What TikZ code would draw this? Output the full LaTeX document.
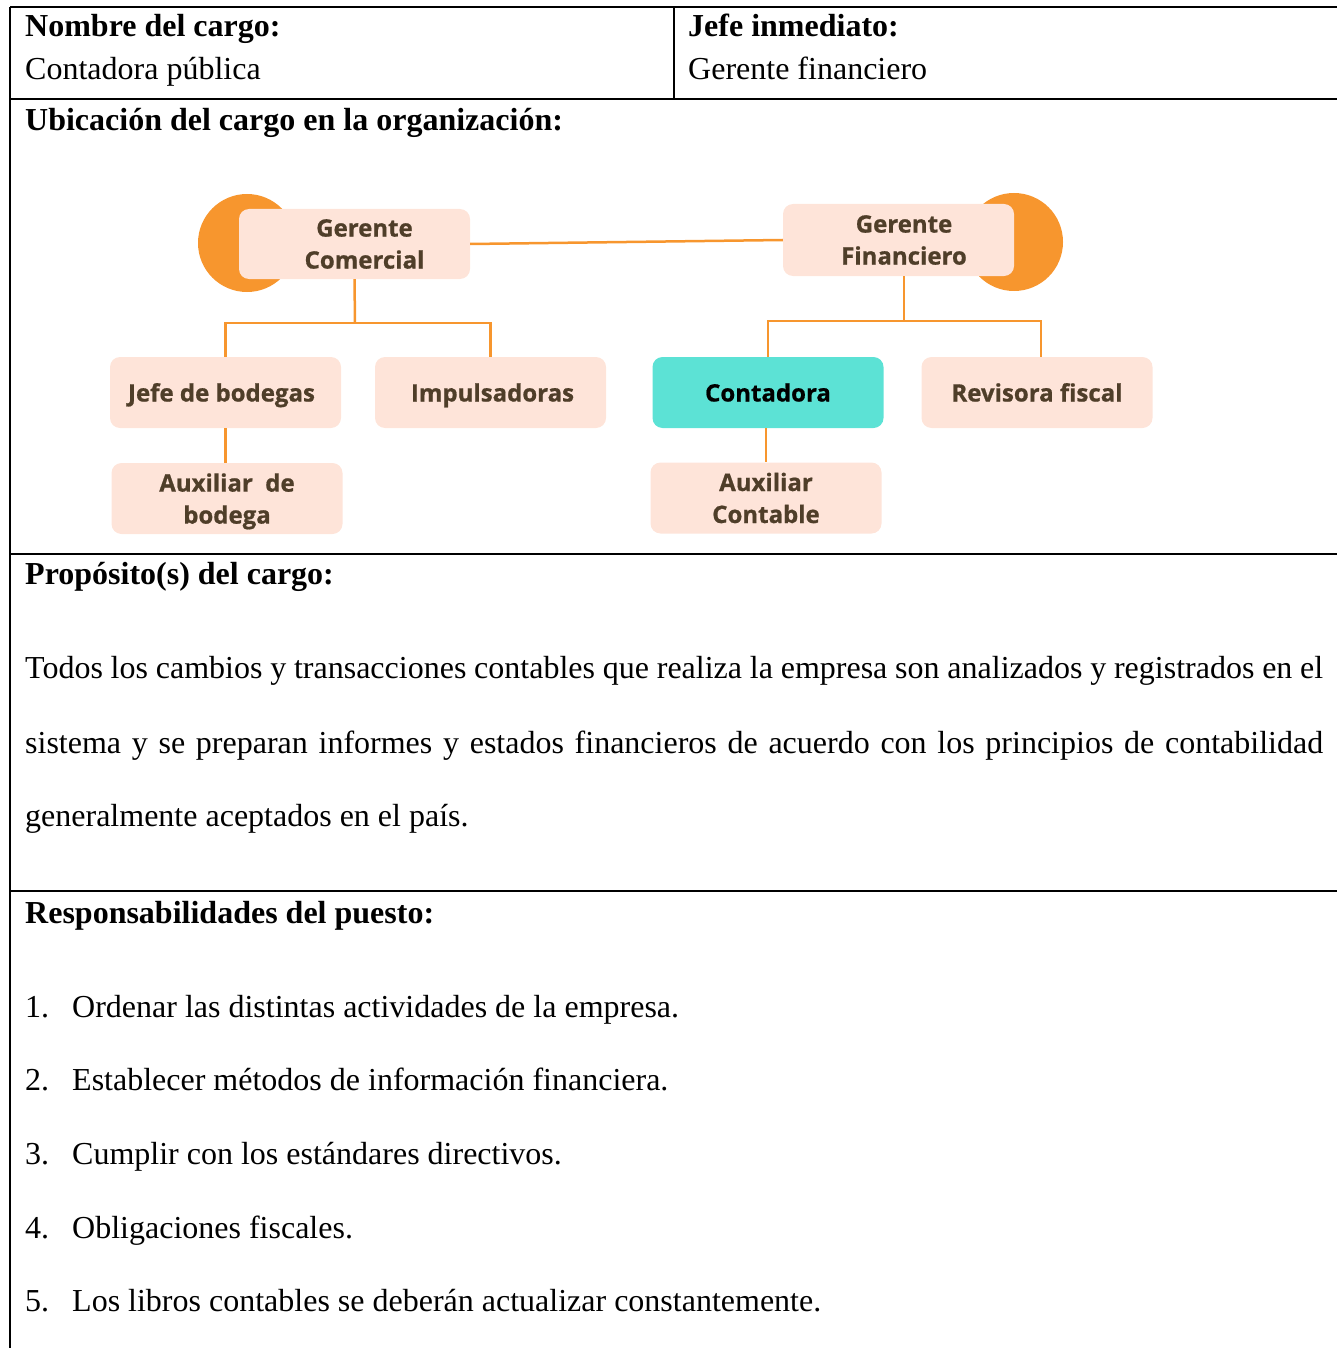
\documentclass[tikz,border=0pt]{standalone}
\usepackage{fontspec}
\setmainfont{Liberation Serif}
\newfontfamily\orgfont{Open Sans}[BoldFeatures={FakeBold=0.8}]
\usetikzlibrary{calc}

\definecolor{rulecol}{HTML}{000000}
\definecolor{orangeline}{HTML}{F7962E}
\definecolor{boxfill}{HTML}{FEE4D9}
\definecolor{tealfill}{HTML}{5CE2D5}
\definecolor{boxtext}{HTML}{4F3E29}

\tikzset{
  rule/.style={line width=2pt, draw=rulecol},
  txt/.style={anchor=base west, inner sep=0pt, font=\fontsize{32}{38}\selectfont},
  txtb/.style={txt, font=\fontsize{32}{38}\selectfont\bfseries},
  orgbox/.style={rectangle, rounded corners=10pt, fill=boxfill, text=boxtext,
    font=\orgfont\bfseries\fontsize{24}{32}\selectfont, align=center,
    minimum width=231pt, minimum height=71pt, inner sep=0pt},
  oneline/.style={text height=22pt, text depth=4pt},
  activebox/.style={orgbox, fill=tealfill, text=black},
  conn/.style={draw=orangeline, line width=2.5pt},
  blob/.style={fill=orangeline}
}

\begin{document}
\begin{tikzpicture}[x=1pt, y=-1pt]
  \useasboundingbox (0,0) rectangle (1337,1348);

  % ---- table rules ----
  \draw[rule] (10,7) -- (1337,7);
  \draw[rule] (10,7) -- (10,1348);
  \draw[rule] (674,7) -- (674,99);
  \draw[rule] (10,99) -- (1337,99);
  \draw[rule] (10,554) -- (1337,554);
  \draw[rule] (10,891) -- (1337,891);

  % ---- header cells ----
  \node[txtb] (h1) at (25,37) {Nombre del cargo:};
  \node[txt]  (v1) at (25,80) {Contadora pública};
  \node[txtb] (h2) at (688,37) {Jefe inmediato:};
  \node[txt]  (v2) at (688,80) {Gerente financiero};
  \node[txtb] (h3) at (25,131) {Ubicación del cargo en la organización:};

  % ---- organisation chart ----
  \fill[blob] (247,243) circle (49);
  \fill[blob] (1014,242) circle (49);

  \node[orgbox, minimum height=70pt] (gc) at (354.5,244)
    {\hspace*{20pt}Gerente\\\hspace*{20pt}Comercial};
  \node[orgbox, minimum height=72pt] (gf) at (898.5,240)
    {\hspace*{11pt}Gerente\\\hspace*{11pt}Financiero};

  \node[orgbox, oneline] (jefe) at (225.5,392.5) {Jefe de bodegas\hspace*{8pt}};
  \node[orgbox, oneline] (imp)  at (490.5,392.5) {\hspace*{4pt}Impulsadoras};
  \node[activebox, oneline] (cont) at (768,392.5) {Contadora};
  \node[orgbox, oneline] (rev)  at (1037,392.5) {Revisora fiscal};

  \node[orgbox] (auxb) at (227,498.5)
    {Auxiliar~~de\\\raisebox{0pt}[\height][0pt]{bodega}};
  \node[orgbox] (auxc) at (766,498) {Auxiliar\\Contable};

  \coordinate (bl) at (355,323);
  \coordinate (br) at (904,321);

  \draw[conn] (gc.east) -- (gf.west);
  \draw[conn] (gc.south) -- (bl);
  \draw[conn] (jefe.north) |- (bl) -| (imp.north);
  \draw[conn] (gf.south -| br) -- (br);
  \draw[conn] (cont.north) |- (br) -| ([xshift=4pt]rev.north);
  \draw[conn] (jefe.south) -- (jefe.south |- auxb.north);
  \draw[conn] (cont.south -| auxc.north) -- (auxc.north);

  % ---- purpose ----
  \node[txtb] (h4) at (25,584) {Propósito(s) del cargo:};
  \node[txt] (p1) at (25,678) {\makebox[1298pt][s]{Todos los cambios y transacciones contables que realiza la empresa son analizados y registrados en el}};
  \node[txt] (p2) at (25,753) {\makebox[1298pt][s]{sistema y se preparan informes y estados financieros de acuerdo con los principios de contabilidad}};
  \node[txt] (p3) at (25,826) {generalmente aceptados en el país.};

  % ---- responsibilities ----
  \node[txtb] (h5) at (25,923) {Responsabilidades del puesto:};
  \foreach \n/\y/\t in {
      1/1017/{Ordenar las distintas actividades de la empresa.},
      2/1090/{Establecer métodos de información financiera.},
      3/1164/{Cumplir con los estándares directivos.},
      4/1238/{Obligaciones fiscales.},
      5/1311/{Los libros contables se deberán actualizar constantemente.}} {
    \node[txt] (n\n) at (25,\y) {\n.};
    \node[txt] (r\n) at (72,\y) {\t};
  }
\end{tikzpicture}
\end{document}
